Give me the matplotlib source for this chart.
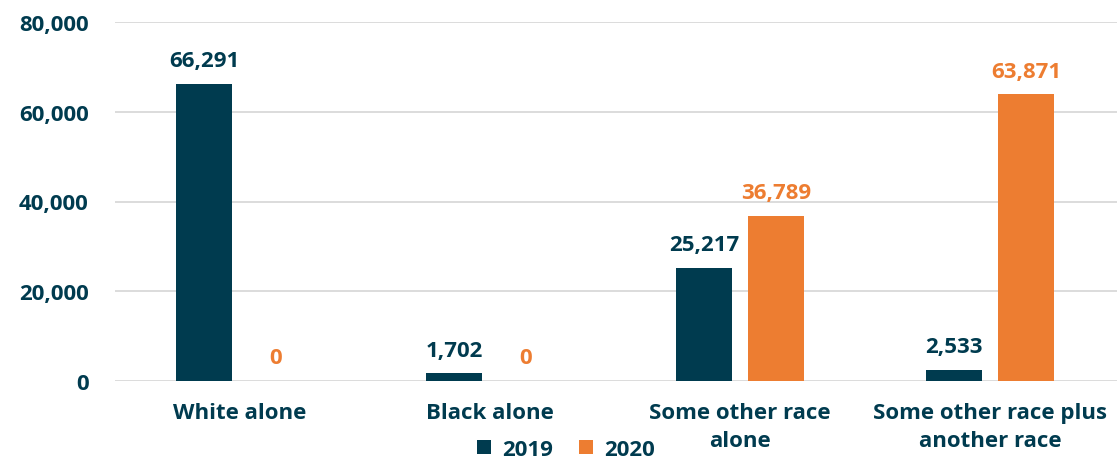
import numpy as np
import matplotlib.pyplot as plt

categories = ['White alone', 'Black alone', 'Some other race\nalone', 'Some other race plus\nanother race']
values_2019 = [66291, 1702, 25217, 2533]
values_2020 = [0, 0, 36789, 63871]
yticks = [0, 20000, 40000, 60000, 80000]

navy = '#003B4F'
orange = '#ED7D31'

plt.rcParams['font.family'] = ['Open Sans', 'DejaVu Sans']
plt.rcParams['font.weight'] = 'bold'

fig = plt.figure(figsize=(11.17, 4.6), dpi=100)
ax = fig.add_axes([115 / 1117, 1 - 382 / 460, 1002 / 1117, 359 / 460])

fs = 16
x = np.arange(len(categories))
w = 0.224
off = 0.144
b1 = ax.bar(x - off, values_2019, w, color=navy, label='2019', zorder=3)
b2 = ax.bar(x + off, values_2020, w, color=orange, label='2020', zorder=3)

for bars, col in ((b1, navy), (b2, orange)):
    for b in bars:
        h = b.get_height()
        ax.annotate(f'{h:,.0f}', (b.get_x() + b.get_width() / 2, h),
                    xytext=(0, 9), textcoords='offset points',
                    ha='center', va='bottom', color=col,
                    fontsize=fs, fontweight='bold')

ax.set_xlim(-0.5, 3.508)
ax.set_ylim(0, 80000)
ax.set_yticks(yticks)
ax.set_yticklabels([f'{v:,}' for v in yticks])
ax.set_xticks(x)
ax.set_xticklabels(categories, linespacing=1.45)
ax.tick_params(length=0, labelsize=fs, labelcolor=navy)
ax.tick_params(axis='y', pad=19)
ax.tick_params(axis='x', pad=15)
for lab in ax.get_xticklabels() + ax.get_yticklabels():
    lab.set_fontweight('bold')
ax.grid(axis='y', color='#D9D9D9', linewidth=1.3, zorder=0)
for s in ax.spines.values():
    s.set_visible(False)

leg = ax.legend(loc='center', bbox_to_anchor=(451 / 1002, -0.19), ncol=2,
                frameon=False, handlelength=0.6, handleheight=0.6,
                handletextpad=0.5, columnspacing=1.2,
                prop={'size': fs, 'weight': 'bold'})
for t in leg.get_texts():
    t.set_color(navy)

fig.savefig('out.png', dpi=100)
